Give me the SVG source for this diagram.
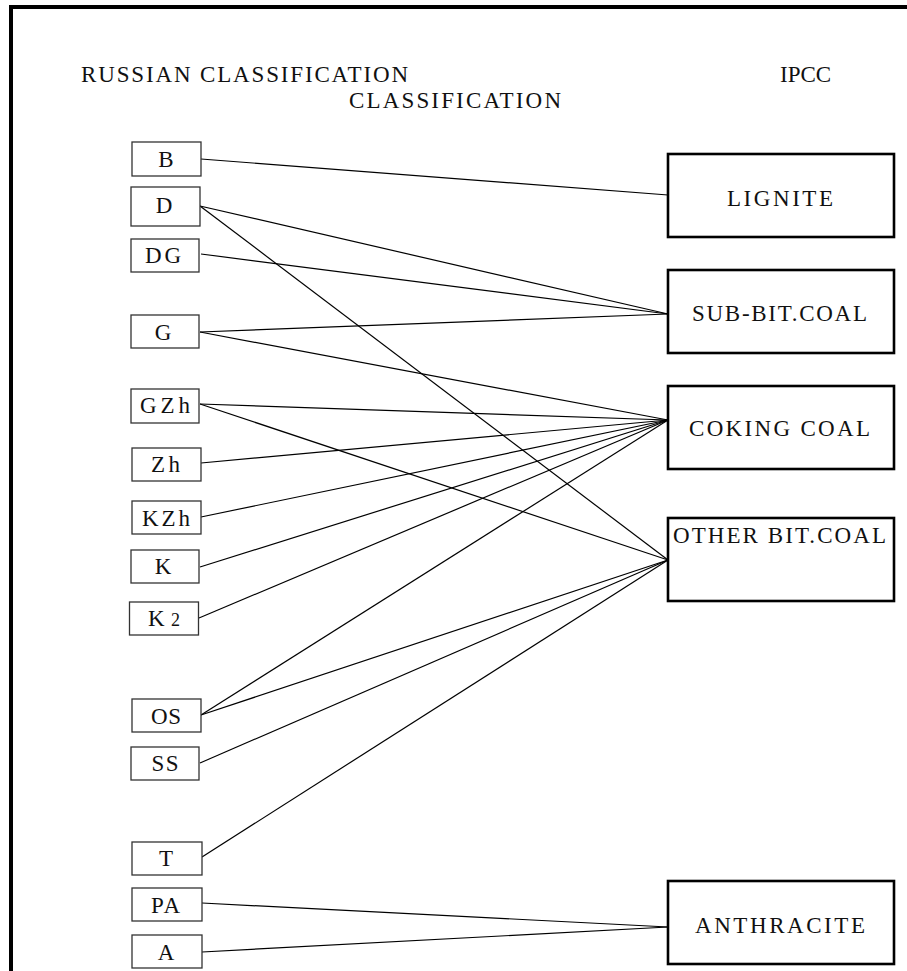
<svg xmlns="http://www.w3.org/2000/svg" width="907" height="971" viewBox="0 0 907 971">
<style>
text{font-family:"Liberation Serif","Times New Roman",serif;fill:#111}
.h{font-size:23px}
.l{font-size:23px;text-anchor:middle}
.r{font-size:23px}
.sb{fill:#fff;stroke:#333;stroke-width:1.3}
.bb{fill:#fff;stroke:#000;stroke-width:2.6}
.c line{stroke:#000;stroke-width:1.2}
</style>
<rect width="907" height="971" fill="#fff"/>
<g id="frame" stroke="#000" stroke-width="4" fill="none">
<line x1="9" y1="7" x2="907" y2="7"/>
<line x1="11" y1="5" x2="11" y2="971"/>
</g>
<g id="headers">
<text class="h" x="81" y="82" textLength="327" lengthAdjust="spacing">RUSSIAN CLASSIFICATION</text>
<text class="h" x="349" y="108" textLength="212" lengthAdjust="spacing">CLASSIFICATION</text>
<text class="h" x="780" y="82" font-size="20">IPCC</text>
</g>
<g class="c" id="connectors">
<line x1="201" y1="159" x2="668" y2="195"/>
<line x1="200" y1="206" x2="668" y2="314"/>
<line x1="200" y1="206" x2="668" y2="560"/>
<line x1="201" y1="254" x2="668" y2="314"/>
<line x1="200" y1="332" x2="668" y2="314"/>
<line x1="200" y1="332" x2="668" y2="420"/>
<line x1="200" y1="404" x2="668" y2="420"/>
<line x1="200" y1="404" x2="668" y2="560"/>
<line x1="201" y1="463" x2="668" y2="420"/>
<line x1="201" y1="517" x2="668" y2="420"/>
<line x1="200" y1="567" x2="668" y2="420"/>
<line x1="199" y1="618" x2="668" y2="420"/>
<line x1="201" y1="715" x2="668" y2="420"/>
<line x1="201" y1="715" x2="668" y2="560"/>
<line x1="200" y1="763" x2="668" y2="560"/>
<line x1="202" y1="857" x2="668" y2="560"/>
<line x1="202" y1="903" x2="668" y2="927"/>
<line x1="202" y1="952" x2="668" y2="927"/>
</g>
<g id="n-B"><rect class="sb" x="132" y="142" width="69" height="34"/><text class="l" x="166" y="167">B</text></g>
<g id="n-D"><rect class="sb" x="131" y="187" width="69" height="39"/><text class="l" x="164" y="213">D</text></g>
<g id="n-DG"><rect class="sb" x="131" y="239" width="68" height="33"/><text class="l" x="163" y="263" textLength="36" lengthAdjust="spacing">DG</text></g>
<g id="n-G"><rect class="sb" x="131" y="315" width="68" height="33"/><text class="l" x="163" y="340">G</text></g>
<g id="n-GZh"><rect class="sb" x="131" y="389" width="68" height="34"/><text class="l" x="165" y="413" textLength="50" lengthAdjust="spacing">GZh</text></g>
<g id="n-Zh"><rect class="sb" x="132" y="448" width="69" height="33"/><text class="l" x="165.5" y="472" textLength="29" lengthAdjust="spacing">Zh</text></g>
<g id="n-KZh"><rect class="sb" x="132" y="501" width="69" height="33"/><text class="l" x="166" y="526" textLength="48" lengthAdjust="spacing">KZh</text></g>
<g id="n-K"><rect class="sb" x="131" y="550" width="68" height="33"/><text class="l" x="163" y="574">K</text></g>
<g id="n-K2"><rect class="sb" x="129.5" y="602" width="69" height="33"/><text class="l" x="164" y="626" textLength="32" lengthAdjust="spacing">K<tspan font-size="18">2</tspan></text></g>
<g id="n-OS"><rect class="sb" x="132" y="699" width="69" height="33"/><text class="l" x="166" y="724" textLength="30" lengthAdjust="spacing">OS</text></g>
<g id="n-SS"><rect class="sb" x="131" y="747" width="68" height="33"/><text class="l" x="165" y="771" textLength="27" lengthAdjust="spacing">SS</text></g>
<g id="n-T"><rect class="sb" x="132" y="842" width="70" height="33"/><text class="l" x="166" y="866">T</text></g>
<g id="n-PA"><rect class="sb" x="132" y="888" width="70" height="33"/><text class="l" x="165.5" y="913" textLength="29" lengthAdjust="spacing">PA</text></g>
<g id="n-A"><rect class="sb" x="132" y="935" width="70" height="33"/><text class="l" x="166" y="960">A</text></g>
<g id="n-LIGNITE"><rect class="bb" x="668" y="154" width="226" height="83"/><text class="r" x="727" y="206" textLength="106" lengthAdjust="spacing">LIGNITE</text></g>
<g id="n-SUBBIT"><rect class="bb" x="668" y="270" width="226" height="83"/><text class="r" x="692" y="321" textLength="175" lengthAdjust="spacing">SUB-BIT.COAL</text></g>
<g id="n-COKING"><rect class="bb" x="668" y="386" width="226" height="83"/><text class="r" x="689" y="436" textLength="181" lengthAdjust="spacing">COKING COAL</text></g>
<g id="n-OTHER"><rect class="bb" x="668" y="518" width="226" height="83"/><text class="r" x="673" y="543" textLength="213" lengthAdjust="spacing">OTHER BIT.COAL</text></g>
<g id="n-ANTHRACITE"><rect class="bb" x="668" y="881" width="226" height="83"/><text class="r" x="695" y="933" textLength="170" lengthAdjust="spacing">ANTHRACITE</text></g>
</svg>
